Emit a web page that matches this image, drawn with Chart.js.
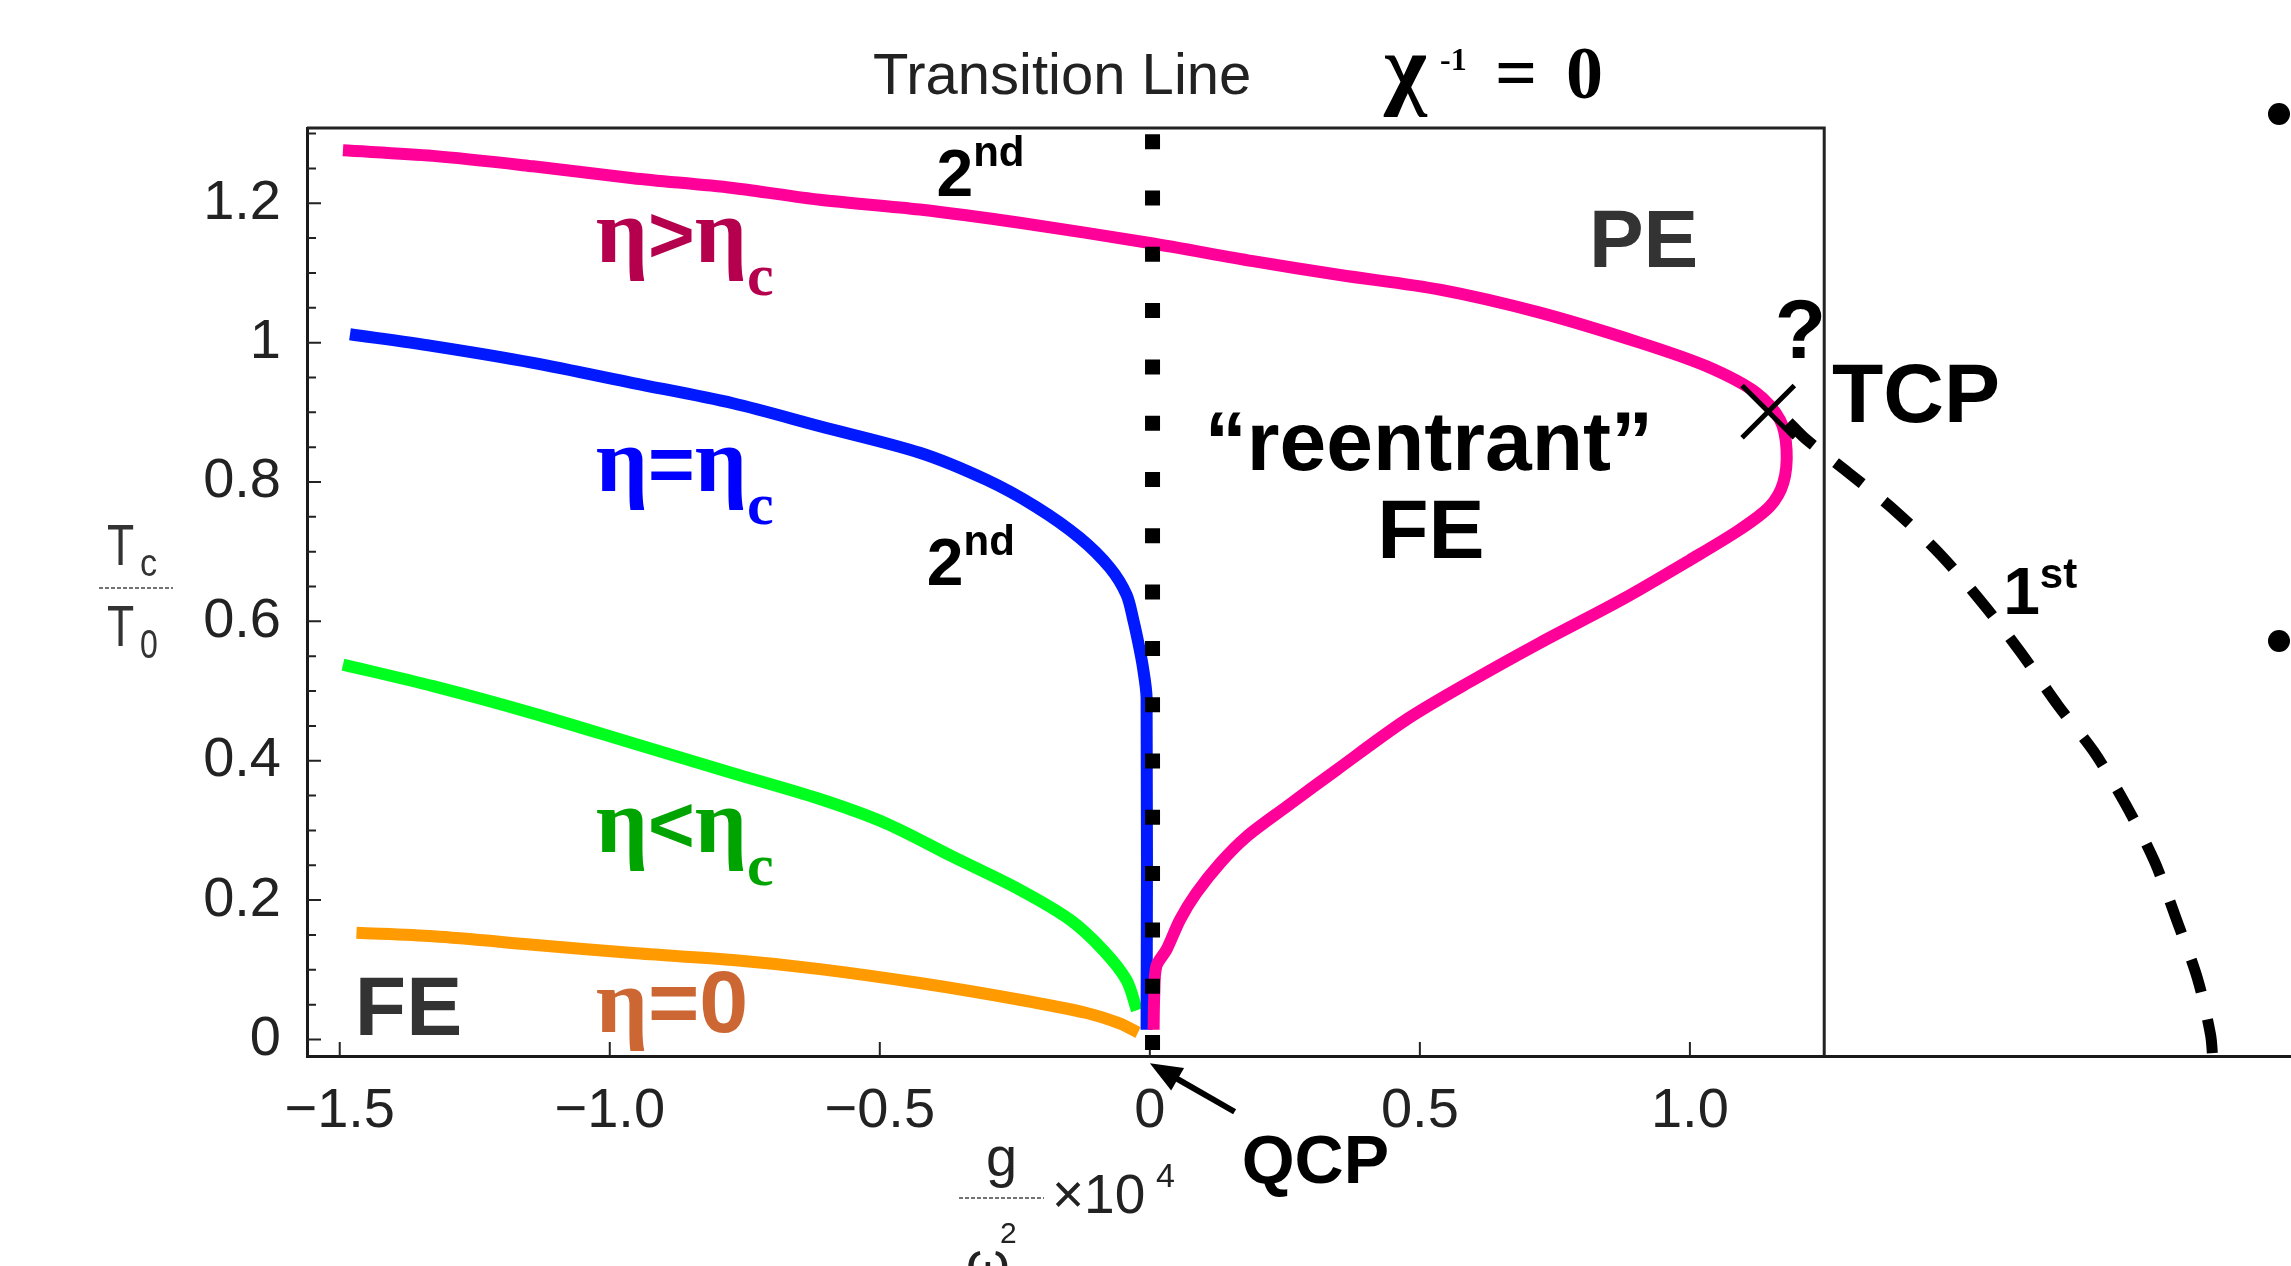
<!DOCTYPE html>
<html>
<head>
<meta charset="utf-8">
<title>Diagrama de fase</title>
<script src="https://cdn.jsdelivr.net/npm/chart.js@4.4.0/dist/chart.umd.min.js"></script>
<style>
  html, body { margin: 0; padding: 0; background: #fff; }
  #box { width: 2291px; height: 1266px; position: relative; }
</style>
</head>
<body>
<div id="box"><canvas id="myChart"></canvas></div>
<script>
// Curvas Tc/T0 em função de g/ωD² (x10^4)
const etaAcima = [[-1.494,1.276],[-1.327,1.268],[-1.142,1.253],[-0.957,1.236],[-0.772,1.222],[-0.611,1.205],
  [-0.426,1.191],[-0.241,1.172],[0.000,1.143],[0.191,1.117],[0.352,1.097],[0.537,1.076],[0.722,1.043],
  [0.907,1.000],[1.031,0.966],[1.123,0.928],[1.167,0.889],[1.179,0.846],[1.173,0.799],[1.148,0.765],
  [1.093,0.732],[1.000,0.688],[0.876,0.632],[0.722,0.569],[0.599,0.516],[0.475,0.459],[0.346,0.387],
  [0.253,0.334],[0.179,0.291],[0.130,0.253],[0.086,0.210],[0.056,0.172],[0.031,0.129],[0.012,0.105],
  [0.008,0.060],[0.007,0.014]];
const etaCritico = [[-1.481,1.012],[-1.327,0.995],[-1.142,0.971],[-0.957,0.942],[-0.772,0.913],[-0.611,0.880],
  [-0.426,0.842],[-0.302,0.803],[-0.210,0.764],[-0.130,0.720],[-0.074,0.677],[-0.043,0.638],[-0.030,0.600],
  [-0.021,0.568],[-0.013,0.535],[-0.006,0.490],[-0.006,0.014]];
const etaAbaixo = [[-1.494,0.538],[-1.327,0.507],[-1.142,0.468],[-0.957,0.425],[-0.772,0.382],[-0.611,0.345],
  [-0.488,0.310],[-0.364,0.262],[-0.241,0.215],[-0.148,0.172],[-0.086,0.128],[-0.043,0.085],[-0.024,0.042]];
const etaZero = [[-1.469,0.153],[-1.327,0.148],[-1.142,0.136],[-0.957,0.124],[-0.772,0.114],[-0.611,0.101],
  [-0.426,0.081],[-0.241,0.057],[-0.117,0.038],[-0.056,0.023],[-0.022,0.010]];
const primeiraOrdem = [[1.183,0.886],[1.214,0.862],[1.294,0.813],[1.381,0.758],[1.465,0.695],[1.542,0.626],
  [1.612,0.556],[1.682,0.479],[1.748,0.413],[1.807,0.337],[1.860,0.256],[1.901,0.172],[1.940,0.087],
  [1.964,0.007],[1.968,-0.026]];
const pontoTCP = [[1.145, 0.901]];

const xTicks = [-1.5, -1.0, -0.5, 0, 0.5, 1.0];
const xTickLabels = ['\u22121.5', '\u22121.0', '\u22120.5', '0', '0.5', '1.0'];
const yTicks = [0, 0.2, 0.4, 0.6, 0.8, 1.0, 1.2];
const yTickLabels = ['0', '0.2', '0.4', '0.6', '0.8', '1', '1.2'];
const yMinorStep = 0.05;

const xMin = -1.5606, xMax = 2.113, yMin = -0.0237, yMax = 1.308;
const frameRight = 1.2487;
const xTransicao = 0.005;
const linhaTransicao = [[xTransicao, yMax], [xTransicao, yMin]];

const SANS = "'Liberation Sans', Arial, sans-serif";
const SERIF = "'Liberation Serif', 'Times New Roman', serif";

// Textos dentro do gráfico (posição em coordenadas dos eixos)
const notas = [
  { x: -0.395, y: 1.210, cor: '#000', runs: [['2', 'bold 66px ' + SANS], ['nd', 'bold 42px ' + SANS, -30]] },
  { x: -0.413, y: 0.6526, cor: '#000', runs: [['2', 'bold 66px ' + SANS], ['nd', 'bold 42px ' + SANS, -30]] },
  { x: -1.026, y: 1.1163, cor: '#b5004d', runs: [['η', 'bold 92px ' + SERIF], ['>', 'bold 80px ' + SANS], ['η', 'bold 92px ' + SERIF], ['c', 'bold 60px ' + SERIF, 33]] },
  { x: -1.026, y: 0.7865, cor: '#0000ff', runs: [['η', 'bold 92px ' + SERIF], ['=', 'bold 80px ' + SANS], ['η', 'bold 92px ' + SERIF], ['c', 'bold 60px ' + SERIF, 33]] },
  { x: -1.026, y: 0.2696, cor: '#00a400', runs: [['η', 'bold 92px ' + SERIF], ['<', 'bold 80px ' + SANS], ['η', 'bold 92px ' + SERIF], ['c', 'bold 60px ' + SERIF, 33]] },
  { x: -1.026, y: 0.0112, cor: '#cc6633', runs: [['η', 'bold 92px ' + SERIF], ['=0', 'bold 88px ' + SANS]] },
  { x: -1.472, y: 0.0065, cor: '#333', runs: [['FE', 'bold 84px ' + SANS]] },
  { x: 0.813, y: 1.1087, cor: '#333', runs: [['PE', 'bold 82px ' + SANS]] },
  { x: 0.5167, y: 0.8177, cor: '#000', centro: true, runs: [['\u201creentrant\u201d', 'bold 84px ' + SANS]] },
  { x: 0.5204, y: 0.6913, cor: '#000', centro: true, runs: [['FE', 'bold 84px ' + SANS]] },
  { x: 1.157, y: 0.978, cor: '#000', runs: [['?', 'bold 84px ' + SANS]] },
  { x: 1.263, y: 0.886, cor: '#000', runs: [['TCP', 'bold 84px ' + SANS]] },
  { x: 1.580, y: 0.6109, cor: '#000', runs: [['1', 'bold 66px ' + SANS], ['st', 'bold 42px ' + SANS, -26]] },
  { x: 0.170, y: -0.206, cor: '#000', runs: [['QCP', 'bold 68px ' + SANS]] }
];
const setaQCP = { de: [0.157, -0.1037], para: [0, -0.0342] };

function toXY(pts) {
  return pts.map(p => ({ x: p[0], y: p[1] }));
}

function findLabel(values, labels, v) {
  const i = values.findIndex(t => Math.abs(t - v) < 1e-9);
  return i >= 0 ? labels[i] : '';
}

// Escreve uma sequência de trechos com fontes diferentes
function drawRuns(ctx, x, y, runs, cor, centro) {
  ctx.fillStyle = cor;
  ctx.textBaseline = 'alphabetic';
  ctx.textAlign = 'left';
  let total = 0;
  runs.forEach(r => { ctx.font = r[1]; total += ctx.measureText(r[0]).width; });
  let cx = centro ? x - total / 2 : x;
  runs.forEach(r => {
    ctx.font = r[1];
    ctx.fillText(r[0], cx, y + (r[2] || 0));
    cx += ctx.measureText(r[0]).width;
  });
}

function drawScaled(ctx, text, x, y, font, sx) {
  ctx.save();
  ctx.translate(x, y);
  ctx.scale(sx, 1);
  ctx.font = font;
  ctx.fillText(text, 0, 0);
  ctx.restore();
}

function fracLine(ctx, x1, x2, y) {
  ctx.save();
  ctx.strokeStyle = '#444';
  ctx.lineWidth = 1.5;
  ctx.setLineDash([4, 2]);
  ctx.beginPath();
  ctx.moveTo(x1, y);
  ctx.lineTo(x2, y);
  ctx.stroke();
  ctx.restore();
}

// Moldura, marcas internas e textos
const molduraPlugin = {
  id: 'moldura',
  beforeDatasetsDraw(chart) {
    const ctx = chart.ctx, xs = chart.scales.x, ys = chart.scales.y;
    const left = chart.chartArea.left, top = chart.chartArea.top, bottom = chart.chartArea.bottom;
    const right = xs.getPixelForValue(frameRight);
    ctx.save();
    ctx.strokeStyle = '#222';
    ctx.lineWidth = 3;
    ctx.beginPath();
    ctx.moveTo(left, top);
    ctx.lineTo(right, top);
    ctx.lineTo(right, bottom);
    ctx.stroke();

    ctx.lineWidth = 2;
    ctx.beginPath();
    xTicks.forEach(v => {
      const px = xs.getPixelForValue(v);
      ctx.moveTo(px, bottom);
      ctx.lineTo(px, bottom - 14);
    });
    const n = Math.floor(yMax / yMinorStep + 1e-6);
    for (let i = 0; i <= n; i++) {
      const v = i * yMinorStep;
      const py = ys.getPixelForValue(v);
      const major = yTicks.some(t => Math.abs(t - v) < 1e-6);
      ctx.moveTo(left, py);
      ctx.lineTo(left + (major ? 14 : 9), py);
    }
    ctx.stroke();
    ctx.restore();
  },
  afterDraw(chart) {
    const ctx = chart.ctx, xs = chart.scales.x, ys = chart.scales.y;
    ctx.save();

    notas.forEach(n => {
      drawRuns(ctx, xs.getPixelForValue(n.x), ys.getPixelForValue(n.y), n.runs, n.cor, n.centro);
    });

    // seta do QCP
    const x1 = xs.getPixelForValue(setaQCP.de[0]), y1 = ys.getPixelForValue(setaQCP.de[1]);
    const x2 = xs.getPixelForValue(setaQCP.para[0]), y2 = ys.getPixelForValue(setaQCP.para[1]);
    const ang = Math.atan2(y2 - y1, x2 - x1);
    ctx.strokeStyle = '#000';
    ctx.fillStyle = '#000';
    ctx.lineWidth = 6;
    ctx.beginPath();
    ctx.moveTo(x1, y1);
    ctx.lineTo(x2 - 24 * Math.cos(ang), y2 - 24 * Math.sin(ang));
    ctx.stroke();
    ctx.beginPath();
    ctx.moveTo(x2, y2);
    ctx.lineTo(x2 - 32 * Math.cos(ang) + 13 * Math.sin(ang), y2 - 32 * Math.sin(ang) - 13 * Math.cos(ang));
    ctx.lineTo(x2 - 32 * Math.cos(ang) - 13 * Math.sin(ang), y2 - 32 * Math.sin(ang) + 13 * Math.cos(ang));
    ctx.closePath();
    ctx.fill();

    // títulos de cima
    ctx.textBaseline = 'alphabetic';
    ctx.textAlign = 'left';
    ctx.fillStyle = '#222';
    ctx.font = '58px ' + SANS;
    ctx.fillText('Transition Line', 873, 94);
    ctx.fillStyle = '#000';
    ctx.font = 'bold 92px ' + SERIF;
    ctx.fillText('χ', 1384, 98);
    ctx.font = 'bold 32px ' + SERIF;
    ctx.fillText('-1', 1440, 70);
    ctx.font = 'bold 74px ' + SERIF;
    ctx.fillText('=', 1495, 98);
    ctx.fillText('0', 1566, 98);

    // eixo y: Tc / T0
    ctx.fillStyle = '#333';
    drawScaled(ctx, 'T', 107, 565, '57px ' + SANS, 0.78);
    drawScaled(ctx, 'c', 140, 576, '38px ' + SANS, 0.9);
    fracLine(ctx, 99, 173, 588);
    drawScaled(ctx, 'T', 107, 646, '57px ' + SANS, 0.78);
    drawScaled(ctx, '0', 140, 658, '40px ' + SANS, 0.8);

    // eixo x: g / ωD² x10^4
    ctx.fillStyle = '#222';
    ctx.font = '56px ' + SANS;
    ctx.fillText('g', 986, 1176);
    fracLine(ctx, 959, 1044, 1198);
    ctx.font = '55px ' + SANS;
    ctx.fillText('\u00d710', 1052, 1213);
    ctx.font = '34px ' + SANS;
    ctx.fillText('4', 1156, 1187);
    ctx.font = '30px ' + SANS;
    ctx.fillText('2', 1000, 1243);
    ctx.font = '56px ' + SANS;
    ctx.fillText('ω', 966, 1281);
    ctx.font = '34px ' + SANS;
    ctx.fillText('D', 1008, 1292);

    // marcadores à direita
    ctx.fillStyle = '#000';
    [[2279, 114], [2279, 641]].forEach(p => {
      ctx.beginPath();
      ctx.arc(p[0], p[1], 11, 0, Math.PI * 2);
      ctx.fill();
    });
    ctx.restore();
  }
};

function serie(pts, cor, largura, ordem, extra) {
  return Object.assign({
    data: toXY(pts),
    showLine: true,
    borderColor: cor,
    backgroundColor: cor,
    borderWidth: largura,
    pointRadius: 0,
    tension: 0.3,
    order: ordem,
    borderCapStyle: 'butt',
    borderJoinStyle: 'round',
    fill: false
  }, extra || {});
}

const ctx = document.getElementById('myChart').getContext('2d');
const myChart = new Chart(ctx, {
  type: 'scatter',
  data: {
    datasets: [
      serie(linhaTransicao, '#000', 15, 0, { tension: 0, borderDash: [15, 41.3], borderDashOffset: -6.2 }),
      {
        data: toXY(pontoTCP),
        showLine: false,
        pointStyle: 'crossRot',
        pointRadius: 37,
        pointBorderWidth: 5,
        pointBorderColor: '#000',
        pointBackgroundColor: '#000',
        order: 0
      },
      serie(primeiraOrdem, '#000', 11, 1, { borderDash: [34, 28] }),
      serie(etaAcima, '#ff0099', 12, 2),
      serie(etaCritico, '#0019ff', 12, 3),
      serie(etaAbaixo, '#00ff1f', 12, 4),
      serie(etaZero, '#ff9a00', 12, 5)
    ]
  },
  options: {
    responsive: true,
    maintainAspectRatio: false,
    animation: false,
    devicePixelRatio: 1,
    events: [],
    layout: { autoPadding: false, padding: { top: 128, left: 0, right: 0, bottom: 0 } },
    plugins: { legend: { display: false }, tooltip: { enabled: false } },
    scales: {
      x: {
        type: 'linear',
        min: xMin,
        max: xMax,
        grid: { display: false, drawTicks: false },
        border: { display: true, color: '#1a1a1a', width: 3 },
        afterBuildTicks: s => { s.ticks = xTicks.map(v => ({ value: v })); },
        afterFit: s => {
          s.height = 210;
          s.paddingLeft = 0;
          s.paddingRight = 0;
        },
        ticks: {
          padding: 22,
          autoSkip: false,
          maxRotation: 0,
          color: '#222',
          font: { family: SANS, size: 56 },
          callback: v => findLabel(xTicks, xTickLabels, v)
        }
      },
      y: {
        type: 'linear',
        min: yMin,
        max: yMax,
        grid: { display: false, drawTicks: false },
        border: { display: true, color: '#1a1a1a', width: 3 },
        afterBuildTicks: s => { s.ticks = yTicks.map(v => ({ value: v })); },
        afterFit: s => {
          s.width = 307;
          s.paddingTop = 0;
          s.paddingBottom = 0;
        },
        ticks: {
          padding: 26,
          autoSkip: false,
          color: '#222',
          font: { family: SANS, size: 56 },
          callback: v => findLabel(yTicks, yTickLabels, v)
        }
      }
    }
  },
  plugins: [molduraPlugin]
});
</script>
</body>
</html>
